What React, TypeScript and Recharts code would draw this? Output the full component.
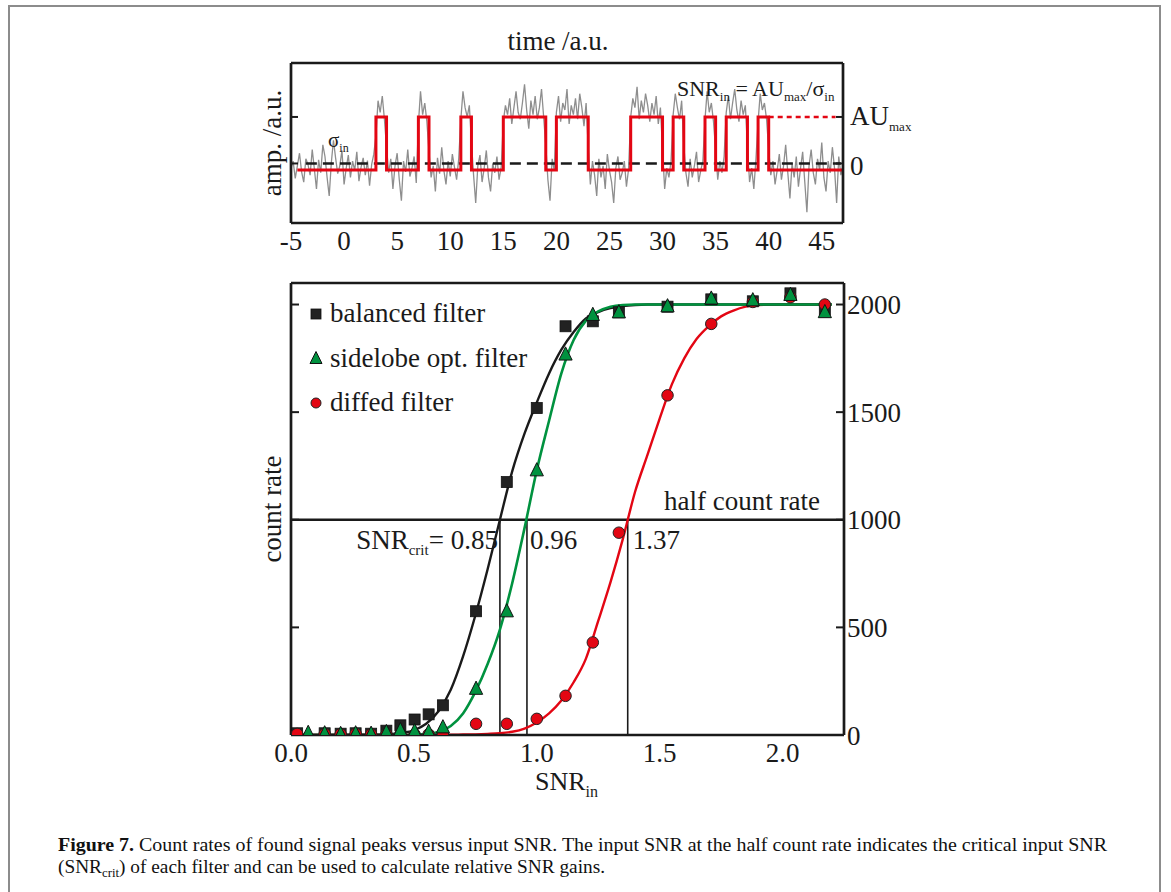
import React from 'react';
import { ComposedChart, Line, Scatter, XAxis, YAxis, ReferenceLine, Legend } from 'recharts';

const SERIF = "'Liberation Serif', 'Times New Roman', serif";
const INK = '#1a1a1a';
const RED = '#e30613';
const GREEN = '#00923f';
const GRAY = '#8e8e8e';

// ---------- upper panel: pulse train example ----------
const timeTicks = [-5, 0, 5, 10, 15, 20, 25, 30, 35, 40, 45];
const ampTicks = [0, 1];
// sampled trace, one value every 0.2 time units starting at t = -5
const noiseStart = -5;
const noiseStep = 0.2;
const noiseAmp = [
  // -5 .. 2.8
  -0.10, 0.05, -0.32, -0.05, 0.22, -0.18, -0.40, 0.10, -0.02, -0.25,
  0.30, -0.12, -0.55, 0.08, -0.20, 0.40, 0.15, -0.30, -0.70, 0.02,
  0.50, 0.12, -0.22, -0.05, 0.28, -0.45, -0.10, 0.18, -0.30, 0.05,
  -0.15, 0.25, -0.38, -0.08, 0.12, -0.25, 0.06, -0.48, -0.02, 0.20,
  // 3 .. 3.8
  0.60, 1.35, 1.10, 1.45, 0.95,
  // 4 .. 6.8
  0.35, -0.20, 0.10, -0.55, -0.05, 0.22, -0.35, -0.80, 0.05, -0.18, 0.30, -0.28, -0.10, 0.15, -0.42,
  // 7 .. 7.8
  0.85, 1.55, 1.05, 1.30, 0.90,
  // 8 .. 10.8
  0.25, -0.30, -0.05, -0.60, 0.12, -0.22, 0.35, -0.15, -0.45, 0.05, -0.28, 0.20, -0.08, -0.35, 0.10,
  // 11 .. 11.8
  0.95, 1.55, 1.20, 1.00, 1.25,
  // 12 .. 14.8
  0.45, -0.25, -0.85, -0.05, 0.18, -0.40, -0.10, 0.28, -0.30, -0.60, 0.00, -0.20, 0.15, -0.35, -0.08,
  // 15 .. 18.8
  0.90, 1.25, 1.05, 1.40, 0.85, 1.20, 1.55, 1.10, 0.95, 1.30, 1.70, 1.15, 0.75, 1.35, 1.05, 1.45, 0.95, 1.20, 1.60, 1.00,
  // 19 .. 19.8
  0.40, -0.35, -0.80, 0.10, -0.15,
  // 20 .. 22.8
  1.10, 1.45, 0.90, 1.30, 1.15, 1.60, 0.85, 1.25, 1.05, 1.40, 0.95, 1.50, 1.20, 0.80, 1.30,
  // 23 .. 26.8
  0.35, -0.45, 0.05, -0.25, -0.70, 0.10, -0.30, -0.05, -0.55, 0.20, -0.15, -0.40, -0.85, -0.10, 0.15, -0.35, -0.20, 0.05, -0.50, -0.12,
  // 27 .. 29.8
  1.00, 1.40, 1.20, 1.65, 0.95, 1.35, 1.10, 1.50, 1.25, 0.90, 1.30, 1.05, 1.45, 0.85, 1.20,
  // 30 .. 30.8
  0.30, -0.55, -0.10, -0.30, 0.05,
  // 31 .. 31.8
  1.05, 1.50, 1.20, 0.95, 1.35,
  // 32 .. 33.8
  0.40, -0.20, -0.50, 0.10, -0.30, -0.05, 0.25, -0.40, -0.15, 0.05,
  // 34 .. 34.8
  0.95, 1.55, 1.10, 1.30, 0.90,
  // 35 .. 35.8
  0.30, -0.35, 0.05, -0.20, 0.15,
  // 36 .. 37.8
  1.10, 1.45, 0.95, 1.30, 1.60, 1.15, 0.90, 1.35, 1.05, 1.25,
  // 38 .. 38.8
  0.35, -0.40, -0.10, -0.55, 0.10,
  // 39 .. 39.8
  0.90, 1.50, 1.15, 1.30, 0.95,
  // 40 .. 47
  0.30, -0.25, 0.05, -0.45, -0.15, 0.20, -0.35, -0.05, 0.40, -0.20, -0.75, 0.00, -0.30, 0.15, -0.50, -0.10,
  0.25, -0.40, -1.05, -0.05, 0.30, -0.20, -0.45, 0.10, -0.15, 0.45, -0.30, -0.60, 0.05, -0.20, 0.35, -0.10,
  -0.85, 0.15, -0.25, -0.05,
];
// detected pulses (step function): level switches at these times
const pulseTimes = [-4.4, 3, 4, 7, 8, 11, 12, 15, 19, 20, 23, 27, 30, 31, 32, 34, 35, 36, 38, 39, 40, 47];
const pulseLevels = [
  -0.14, 1, -0.14, 1, -0.14, 1, -0.14, 1, -0.14, 1, -0.14,
  1, -0.14, 1, -0.14, 1, -0.14, 1, -0.14, 1, -0.14, -0.14,
];

// ---------- lower panel: count rate vs input SNR ----------
const snrTicks = [0, 0.5, 1.0, 1.5, 2.0];
const countTicks = [0, 500, 1000, 1500, 2000];
const snrIn = [0.025, 0.137, 0.202, 0.263, 0.326, 0.388, 0.445, 0.503, 0.56, 0.618, 0.753, 0.878, 1.0, 1.117, 1.228, 1.334, 1.532, 1.71, 1.879, 2.032, 2.172];
const snrSidelobe = [0.07, 0.137, 0.202, 0.263, 0.326, 0.388, 0.445, 0.503, 0.56, 0.618, 0.753, 0.878, 1.0, 1.117, 1.228, 1.334, 1.532, 1.71, 1.879, 2.032, 2.172];
const countBalanced = [8, 8, 6, 8, 6, 20, 45, 72, 96, 138, 575, 1175, 1519, 1899, 1922, 1964, 1990, 2024, 2015, 2052, 1978];
const countSidelobe = [10, 8, 5, 8, 6, 14, 23, 18, 15, 36, 215, 575, 1230, 1768, 1952, 1964, 1992, 2028, 2020, 2045, 1965];
const countDiffed = [5, 5, 4, 6, 3, 3, 2, 2, 3, 4, 52, 52, 75, 182, 430, 940, 1578, 1910, 2012, 2034, 2000];

// fitted curves
const fitSnr = [0, 0.3, 0.4, 0.45, 0.5, 0.55, 0.6, 0.65, 0.7, 0.75, 0.8, 0.85, 0.9, 0.95, 1.0, 1.05, 1.1, 1.15, 1.2, 1.25, 1.3, 1.35, 1.4, 1.45, 1.5, 1.55, 1.6, 1.65, 1.7, 1.75, 1.8, 1.85, 1.9, 2.0, 2.2];
const fitBalanced = [0, 1, 4, 10, 22, 52, 110, 210, 365, 555, 770, 1000, 1225, 1400, 1545, 1680, 1790, 1872, 1935, 1965, 1983, 1993, 1998, 2000, 2000, 2000, 2000, 2000, 2000, 2000, 2000, 2000, 2000, 2000, 2000];
const fitSidelobe = [0, 0, 0, 0, 1, 4, 14, 42, 100, 200, 330, 490, 705, 960, 1230, 1460, 1680, 1835, 1925, 1968, 1990, 1998, 2000, 2000, 2000, 2000, 2000, 2000, 2000, 2000, 2000, 2000, 2000, 2000, 2000];
const fitDiffed = [0, 0, 0, 0, 0, 0, 0, 1, 2, 3, 5, 8, 15, 30, 58, 100, 160, 245, 355, 530, 710, 910, 1130, 1300, 1470, 1630, 1750, 1840, 1900, 1945, 1972, 1990, 1998, 2000, 2000];

const critSnr = [0.85, 0.96, 1.37];
const halfCount = 1000;

const seriesNames = ['balanced filter', 'sidelobe opt. filter', 'diffed filter'];

const noiseData = noiseAmp.map((v, i) => ({ t: noiseStart + i * noiseStep, v }));
const pulseData = pulseTimes.map((t, i) => ({ t, v: pulseLevels[i] }));
const toPoints = (xs: number[], ys: number[]) => xs.map((x, i) => ({ x, y: ys[i] }));
const balancedPts = toPoints(snrIn, countBalanced);
const sidelobePts = toPoints(snrSidelobe, countSidelobe);
const diffedPts = toPoints(snrIn, countDiffed);
const balancedFit = toPoints(fitSnr, fitBalanced);
const sidelobeFit = toPoints(fitSnr, fitSidelobe);
const diffedFit = toPoints(fitSnr, fitDiffed);

const axisStroke = { stroke: INK, strokeWidth: 2.7 };
const tickLineStyle = { stroke: INK, strokeWidth: 2 };
const tickFont = { fontSize: 27, fill: INK };
const noLabel = () => <g />;

const drawMarker = (name: string, cx: number, cy: number, s: number) => {
  if (name === seriesNames[0]) {
    return <rect x={cx - s / 2} y={cy - s / 2} width={s} height={s} fill="#222" stroke="#111" strokeWidth={0.8} />;
  }
  if (name === seriesNames[1]) {
    const h = s * 0.6;
    return (
      <polygon
        points={`${cx},${cy - h - 1} ${cx + h},${cy + h - 1} ${cx - h},${cy + h - 1}`}
        fill={GREEN}
        stroke="#111"
        strokeWidth={1}
      />
    );
  }
  return <circle cx={cx} cy={cy} r={s / 2} fill={RED} stroke="#222" strokeWidth={1} />;
};

const SquareShape = (p: any) => drawMarker(seriesNames[0], p.cx, p.cy, 11);
const TriangleShape = (p: any) => drawMarker(seriesNames[1], p.cx, p.cy, 11);
const CircleShape = (p: any) => drawMarker(seriesNames[2], p.cx, p.cy, 11.5);

const renderLegend = () => (
  <svg width={270} height={140} style={{ fontFamily: SERIF }}>
    {seriesNames.map((name, i) => {
      const cy = 24 + i * 44.5;
      return (
        <g key={name}>
          {drawMarker(name, 11, cy, 10)}
          <text x={25} y={cy + 8} fontSize={27} fill={INK}>
            {name}
          </text>
        </g>
      );
    })}
  </svg>
);

const AmpTick = (props: any) => {
  const { x, y, payload } = props;
  if (payload.value === 0) {
    return (
      <text x={x} y={y + 12} fontSize={27} fill={INK}>
        0
      </text>
    );
  }
  return (
    <text x={x} y={y + 8} fontSize={27} fill={INK}>
      AU
      <tspan fontSize={13} dy={6}>
        max
      </tspan>
    </text>
  );
};

const critLabel = (snr: number, i: number) => (props: any) => {
  const { viewBox } = props;
  const x = viewBox.x;
  const y = viewBox.y + 29;
  if (i === 0) {
    return (
      <text x={x - 2} y={y} fontSize={27} fill={INK} textAnchor="end">
        SNR
        <tspan fontSize={15} dy={6}>
          crit
        </tspan>
        <tspan dy={-6}>= {snr.toFixed(2)}</tspan>
      </text>
    );
  }
  return (
    <text x={x + (i === 1 ? 3 : 5)} y={y} fontSize={27} fill={INK}>
      {snr.toFixed(2)}
    </text>
  );
};

const halfLabel = (props: any) => {
  const { viewBox } = props;
  return (
    <text x={viewBox.x + viewBox.width - 24} y={viewBox.y - 10} fontSize={27} fill={INK} textAnchor="end">
      half count rate
    </text>
  );
};

// Axes are 1px thick so that recharts still renders them; margins make up the rest.
// Labelled axes carry the frame + labels, mirrored twins draw the inward ticks.
const PulsePanel = () => (
  <ComposedChart width={1171} height={260} margin={{ top: 62, right: 327, bottom: 36, left: 290 }}>
    <XAxis xAxisId="b" dataKey="t" type="number" domain={[-5, 47]} ticks={timeTicks} interval={0} allowDataOverflow
      height={1} axisLine={axisStroke} tickLine={false} tickSize={0} tickMargin={8} tick={tickFont} />
    <XAxis xAxisId="bm" mirror type="number" domain={[-5, 47]} ticks={timeTicks} interval={0} allowDataOverflow
      height={1} axisLine={false} tickLine={tickLineStyle} tickSize={7} tick={noLabel} />
    <XAxis xAxisId="t" orientation="top" type="number" domain={[-5, 47]} ticks={timeTicks} interval={0} allowDataOverflow
      height={1} axisLine={axisStroke} tickLine={false} tick={false} />
    <XAxis xAxisId="tm" orientation="top" mirror type="number" domain={[-5, 47]} ticks={timeTicks} interval={0} allowDataOverflow
      height={1} axisLine={false} tickLine={tickLineStyle} tickSize={7} tick={noLabel} />
    <YAxis yAxisId="l" type="number" domain={[-1.28, 2.16]} ticks={ampTicks} interval={0} allowDataOverflow
      width={1} axisLine={axisStroke} tickLine={false} tick={false} />
    <YAxis yAxisId="lm" mirror type="number" domain={[-1.28, 2.16]} ticks={ampTicks} interval={0} allowDataOverflow
      width={1} axisLine={false} tickLine={tickLineStyle} tickSize={7} tick={noLabel} />
    <YAxis yAxisId="r" orientation="right" type="number" domain={[-1.28, 2.16]} ticks={ampTicks} interval={0} allowDataOverflow
      width={1} axisLine={axisStroke} tickLine={false} tickSize={0} tickMargin={7} tick={AmpTick} />
    <YAxis yAxisId="rm" orientation="right" mirror type="number" domain={[-1.28, 2.16]} ticks={ampTicks} interval={0} allowDataOverflow
      width={1} axisLine={false} tickLine={tickLineStyle} tickSize={7} tick={noLabel} />
    <Line
      xAxisId="b"
      yAxisId="l"
      data={noiseData}
      dataKey="v"
      type="linear"
      stroke={GRAY}
      strokeWidth={1.3}
      dot={false}
      isAnimationActive={false}
    />
    <ReferenceLine
      xAxisId="b"
      yAxisId="l"
      segment={[{ x: -3.6, y: 0 }, { x: 46.8, y: 0 }]}
      stroke={INK}
      strokeWidth={2.5}
      strokeDasharray="11 6"
    />
    <ReferenceLine
      xAxisId="b"
      yAxisId="l"
      segment={[{ x: 40, y: 1 }, { x: 46.3, y: 1 }]}
      stroke={RED}
      strokeWidth={2.5}
      strokeDasharray="5 4"
    />
    <Line
      xAxisId="b"
      yAxisId="l"
      data={pulseData}
      dataKey="v"
      type="stepAfter"
      stroke={RED}
      strokeWidth={3}
      dot={false}
      isAnimationActive={false}
    />
  </ComposedChart>
);

const CountPanel = () => (
  <ComposedChart width={1171} height={560} margin={{ top: 20, right: 326, bottom: 86, left: 290 }}>
    <XAxis xAxisId="b" dataKey="x" type="number" domain={[0, 2.25]} ticks={snrTicks} interval={0} allowDataOverflow
      height={1} axisLine={axisStroke} tickLine={false} tickSize={0} tickMargin={8} tick={tickFont}
      tickFormatter={(v: number) => v.toFixed(1)} />
    <XAxis xAxisId="bm" mirror type="number" domain={[0, 2.25]} ticks={snrTicks.slice(1)} interval={0} allowDataOverflow
      height={1} axisLine={false} tickLine={tickLineStyle} tickSize={8} tick={noLabel} />
    <XAxis xAxisId="t" orientation="top" type="number" domain={[0, 2.25]} ticks={snrTicks} interval={0} allowDataOverflow
      height={1} axisLine={axisStroke} tickLine={false} tick={false} />
    <XAxis xAxisId="tm" orientation="top" mirror type="number" domain={[0, 2.25]} ticks={snrTicks.slice(1)} interval={0} allowDataOverflow
      height={1} axisLine={false} tickLine={tickLineStyle} tickSize={8} tick={noLabel} />
    <YAxis yAxisId="l" type="number" domain={[0, 2100]} ticks={countTicks} interval={0} allowDataOverflow
      width={1} axisLine={axisStroke} tickLine={false} tick={false} />
    <YAxis yAxisId="lm" mirror type="number" domain={[0, 2100]} ticks={countTicks.slice(1)} interval={0} allowDataOverflow
      width={1} axisLine={false} tickLine={tickLineStyle} tickSize={8} tick={noLabel} />
    <YAxis yAxisId="r" orientation="right" type="number" domain={[0, 2100]} ticks={countTicks} interval={0} allowDataOverflow
      width={1} axisLine={axisStroke} tickLine={false} tickSize={0} tickMargin={3} tick={tickFont} />
    <YAxis yAxisId="rm" orientation="right" mirror type="number" domain={[0, 2100]} ticks={countTicks.slice(1)} interval={0} allowDataOverflow
      width={1} axisLine={false} tickLine={tickLineStyle} tickSize={8} tick={noLabel} />
    <ReferenceLine xAxisId="b" yAxisId="r" y={halfCount} stroke={INK} strokeWidth={2.6} label={halfLabel} />
    {critSnr.map((snr, i) => (
      <ReferenceLine
        key={snr}
        xAxisId="b"
        yAxisId="r"
        segment={[{ x: snr, y: 0 }, { x: snr, y: halfCount }]}
        stroke={INK}
        strokeWidth={1.6}
        label={critLabel(snr, i)}
      />
    ))}
    <Line xAxisId="b" yAxisId="r" data={diffedFit} dataKey="y" type="monotone" stroke={RED} strokeWidth={2.4} dot={false} legendType="none" isAnimationActive={false} />
    <Line xAxisId="b" yAxisId="r" data={balancedFit} dataKey="y" type="monotone" stroke={INK} strokeWidth={2.4} dot={false} legendType="none" isAnimationActive={false} />
    <Line xAxisId="b" yAxisId="r" data={sidelobeFit} dataKey="y" type="monotone" stroke={GREEN} strokeWidth={2.6} dot={false} legendType="none" isAnimationActive={false} />
    <Scatter xAxisId="b" yAxisId="r" name={seriesNames[0]} data={balancedPts} dataKey="y" shape={SquareShape} isAnimationActive={false} />
    <Scatter xAxisId="b" yAxisId="r" name={seriesNames[2]} data={diffedPts} dataKey="y" shape={CircleShape} isAnimationActive={false} />
    <Scatter xAxisId="b" yAxisId="r" name={seriesNames[1]} data={sidelobePts} dataKey="y" shape={TriangleShape} isAnimationActive={false} />
    <Legend
      layout="vertical"
      align="center"
      verticalAlign="middle"
      content={renderLegend}
      wrapperStyle={{ left: 305, top: 28, width: 270, height: 140 }}
    />
  </ComposedChart>
);

export default function App() {
  return (
    <div style={{ position: 'absolute', left: 0, top: 0, width: 1171, height: 892, fontFamily: SERIF, background: '#fff', overflow: 'hidden' }}>
      <div
        style={{
          position: 'absolute',
          left: 8,
          top: 5,
          width: 1153,
          height: 887,
          border: '2px solid #8c8c8c',
          borderBottom: 'none',
          boxSizing: 'border-box',
        }}
      />
      <div style={{ position: 'absolute', left: 0, top: 0 }}>
        <PulsePanel />
      </div>
      <div style={{ position: 'absolute', left: 0, top: 262 }}>
        <CountPanel />
      </div>
      <svg width={1171} height={892} style={{ position: 'absolute', left: 0, top: 0, pointerEvents: 'none', fontFamily: SERIF }}>
        <text x={558} y={50} fontSize={27} fill={INK} textAnchor="middle">
          time /a.u.
        </text>
        <text x={281} y={143} fontSize={27} fill={INK} textAnchor="middle" transform="rotate(-90 281 143)">
          amp. /a.u.
        </text>
        <text x={328} y={147} fontSize={21} fill={INK}>
          σ<tspan fontSize={12} dy={5}>in</tspan>
        </text>
        <text x={677} y={96} fontSize={22} fill={INK}>
          SNR<tspan fontSize={13} dy={5}>in</tspan>
          <tspan dy={-5}> = AU</tspan>
          <tspan fontSize={13} dy={5}>max</tspan>
          <tspan dy={-5}>/σ</tspan>
          <tspan fontSize={13} dy={5}>in</tspan>
        </text>
        <text x={281} y={509} fontSize={27} fill={INK} textAnchor="middle" transform="rotate(-90 281 509)">
          count rate
        </text>
        <text x={535} y={790} fontSize={26} fill={INK}>
          SNR<tspan fontSize={16} dy={7}>in</tspan>
        </text>
        <text x={58} y={851} fontSize={18} fill="#111" textLength={1049} lengthAdjust="spacingAndGlyphs">
          <tspan fontWeight="bold">Figure 7.</tspan> Count rates of found signal peaks versus input SNR. The input SNR at the half count rate indicates the critical input SNR
        </text>
        <text x={58} y={873} fontSize={18} fill="#111" textLength={547} lengthAdjust="spacingAndGlyphs">
          (SNR<tspan fontSize={12} dy={4}>crit</tspan>
          <tspan dy={-4}>) of each filter and can be used to calculate relative SNR gains.</tspan>
        </text>
      </svg>
    </div>
  );
}
